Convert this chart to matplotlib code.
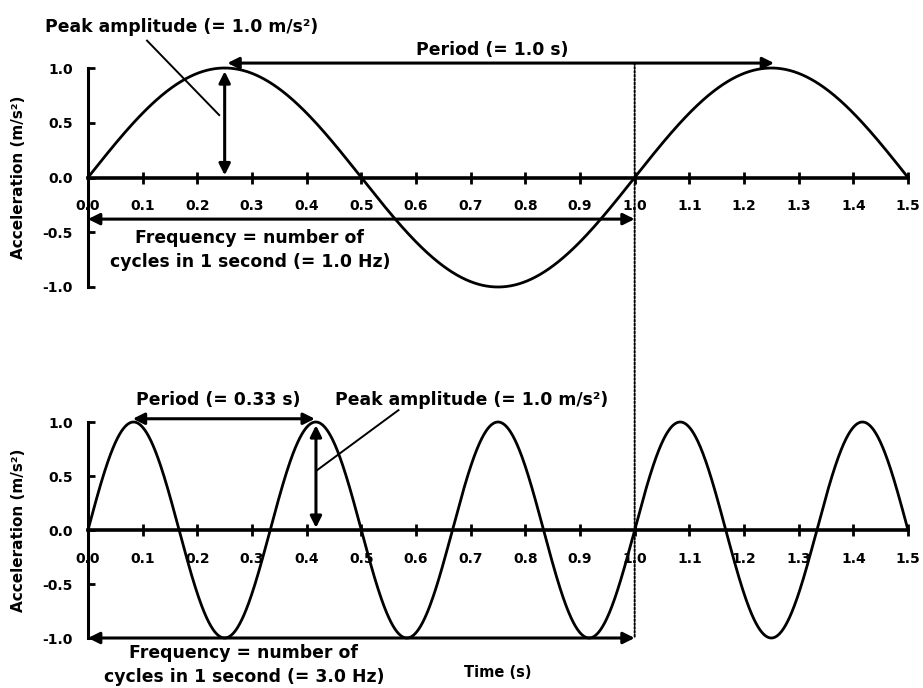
import numpy as np
import matplotlib
matplotlib.use("Agg")
import matplotlib.pyplot as plt
from matplotlib.patches import ConnectionPatch

# ---- data ----
frequencies_hz = [1.0, 3.0]          # top, bottom
peak_amplitudes = [1.0, 1.0]         # m/s^2
time_end = 1.5
x_ticks = [0.0, 0.1, 0.2, 0.3, 0.4, 0.5, 0.6, 0.7, 0.8, 0.9, 1.0, 1.1, 1.2, 1.3, 1.4, 1.5]
y_ticks = [-1.0, -0.5, 0.0, 0.5, 1.0]
freq_labels = ["Frequency = number of\ncycles in 1 second (= 1.0 Hz)",
               "Frequency = number of\ncycles in 1 second (= 3.0 Hz)"]
period_labels = ["Period (= 1.0 s)", "Period (= 0.33 s)"]
amp_label = "Peak amplitude (= 1.0 m/s\u00b2)"
y_label = "Acceleration (m/s\u00b2)"
x_label = "Time (s)"

plt.rcParams['font.family'] = ['DejaVu Sans']
plt.rcParams['font.weight'] = 'bold'

W, H = 923, 688
fig = plt.figure(figsize=(W / 100, H / 100), dpi=100)
left = 88 / W
width = (908 - 88) / W
ax1 = fig.add_axes([left, 1 - 287 / H, width, (287 - 68) / H])
ax2 = fig.add_axes([left, 1 - 638 / H, width, (638 - 422) / H])

t = np.linspace(0, time_end, 2000)

for ax, f, a in zip([ax1, ax2], frequencies_hz, peak_amplitudes):
    ax.plot(t, a * np.sin(2 * np.pi * f * t), color='black', lw=2.0, clip_on=False, zorder=3)
    ax.set_xlim(0, time_end)
    ax.set_ylim(-1, 1)
    ax.spines['top'].set_visible(False)
    ax.spines['right'].set_visible(False)
    ax.spines['bottom'].set_position(('data', 0))
    ax.spines['bottom'].set_linewidth(2.6)
    ax.spines['left'].set_linewidth(2.2)
    ax.set_xticks(x_ticks)
    ax.set_xticklabels([f"{v:.1f}" for v in x_ticks])
    ax.set_yticks(y_ticks)
    ax.set_yticklabels([f"{v:.1f}" for v in y_ticks])
    ax.tick_params(axis='x', direction='inout', length=9, width=2.0, pad=11, labelsize=10)
    ax.tick_params(axis='y', direction='in', length=5, width=2.0, pad=11, labelsize=10)
    ax.set_ylabel(y_label, fontsize=11, fontweight='bold')
    ax.patch.set_alpha(0)

ax1.yaxis.set_label_coords(-0.075, 0.5)
ax2.yaxis.set_label_coords(-0.075, 0.5)

arrow = dict(arrowstyle='<|-|>', lw=2.2, color='black', mutation_scale=17,
             shrinkA=0, shrinkB=0)
TXT = dict(fontsize=12.4, fontweight='bold')

# --- top panel annotations ---
ax1.annotate('', xy=(0.25, 0.02), xytext=(0.25, 0.97), arrowprops=arrow, annotation_clip=False)
ax1.annotate('', xy=(0.255, 1.045), xytext=(1.255, 1.045), arrowprops=arrow, annotation_clip=False)
ax1.annotate('', xy=(0.0, -0.38), xytext=(1.0, -0.38), arrowprops=arrow, annotation_clip=False)
ax1.plot([0.108, 0.24], [1.25, 0.57], color='black', lw=1.4, clip_on=False)
ax1.text(0.172, 1.374, amp_label, ha='center', va='center', **TXT)
ax1.text(0.74, 1.164, period_labels[0], ha='center', va='center', **TXT)
ax1.text(0.296, -0.662, freq_labels[0], ha='center', va='center', linespacing=1.45, **TXT)

# --- bottom panel annotations ---
ax2.annotate('', xy=(0.417, 0.02), xytext=(0.417, 0.97), arrowprops=arrow, annotation_clip=False)
ax2.annotate('', xy=(0.082, 1.03), xytext=(0.415, 1.03), arrowprops=arrow, annotation_clip=False)
ax2.annotate('', xy=(0.0, -1.0), xytext=(1.0, -1.0), arrowprops=arrow, annotation_clip=False)
ax2.plot([0.568, 0.418], [1.11, 0.55], color='black', lw=1.4, clip_on=False)
ax2.text(0.238, 1.20, period_labels[1], ha='center', va='center', **TXT)
ax2.text(0.452, 1.20, amp_label, ha='left', va='center', **TXT)
ax2.text(0.285, -1.25, freq_labels[1], ha='center', va='center', linespacing=1.45, **TXT)
ax2.text(0.75, -1.32, x_label, ha='center', va='center', fontsize=10.5, fontweight='bold')

# vertical dotted line at t = 1.0 s
con = ConnectionPatch(xyA=(1.0, 1.045), coordsA=ax1.transData,
                      xyB=(1.0, -1.0), coordsB=ax2.transData,
                      color='black', lw=1.4, linestyle=(0, (1, 1)))
fig.add_artist(con)

fig.savefig("out.png", dpi=100)
